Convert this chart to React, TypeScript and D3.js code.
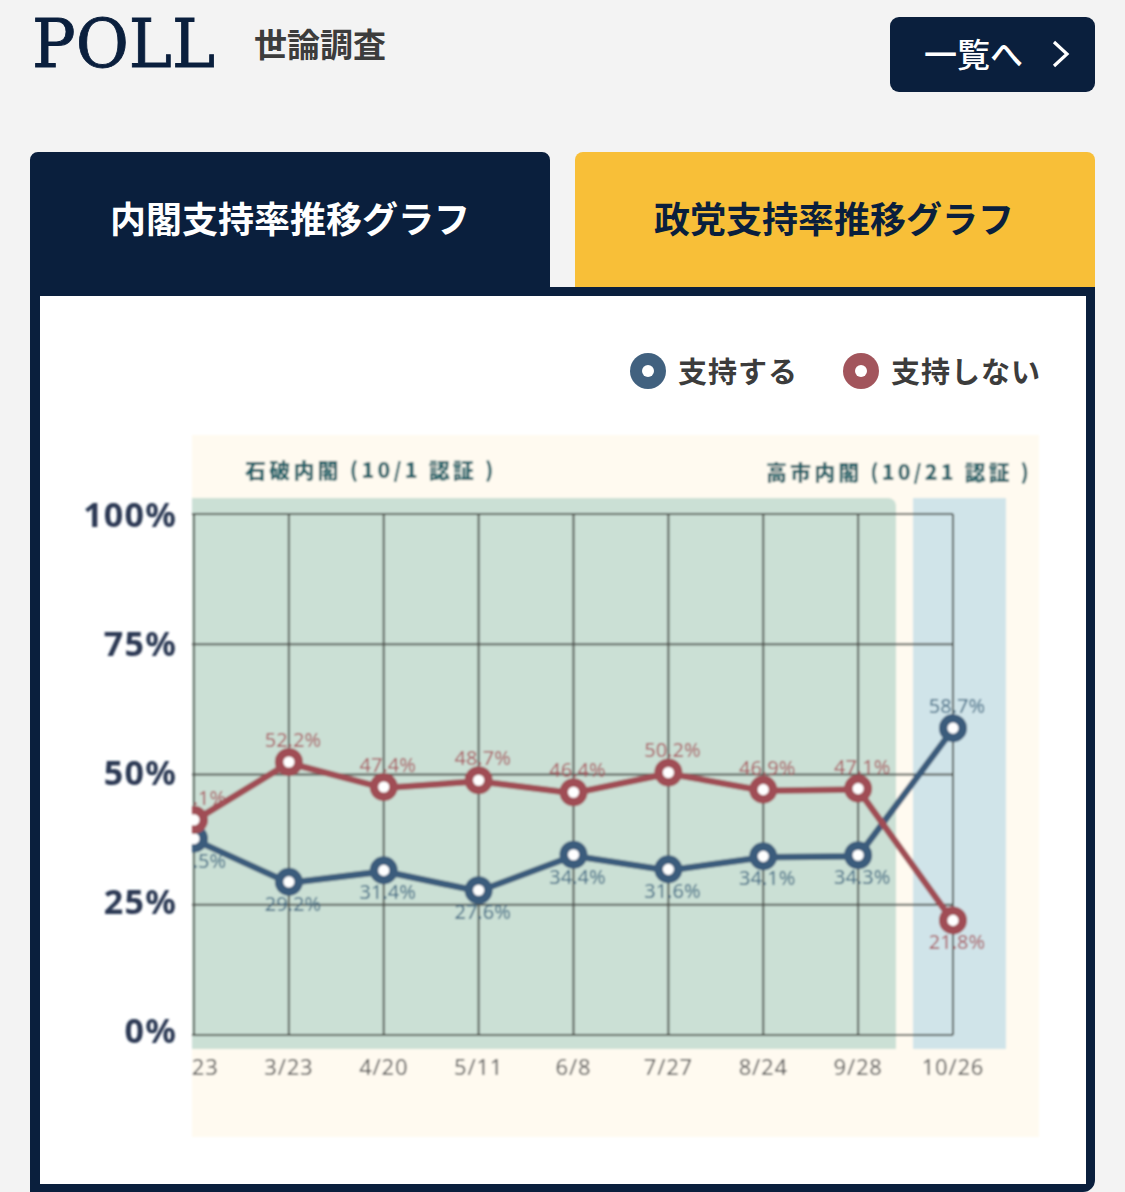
import { useEffect } from 'react';
import * as d3 from 'd3';

const dates = ['2/23', '3/23', '4/20', '5/11', '6/8', '7/27', '8/24', '9/28', '10/26'];
const supportValues = [37.5, 29.2, 31.4, 27.6, 34.4, 31.6, 34.1, 34.3, 58.7];
const opposeValues = [41.1, 52.2, 47.4, 48.7, 46.4, 50.2, 46.9, 47.1, 21.8];
const yTicks = [0, 25, 50, 75, 100];

const NAVY = '#0a1f3d';
const BLUE = '#41617f';
const RED = '#a2555c';
const JP = '"Noto Sans CJK JP", "Noto Sans", sans-serif';

const x = d3.scalePoint<string>().domain(dates).range([194, 953]);
const y = d3.scaleLinear().domain([0, 100]).range([1035, 514]);
// tick labels in the reference sit on a slightly tighter scale than the grid
const yLabel = d3.scaleLinear().domain([0, 100]).range([1043, 527]);

const line = d3
  .line<number>()
  .x((_, i) => x(dates[i]) as number)
  .y(d => y(d));

const series = [
  { name: 'support', values: supportValues, color: '#3a5c7c', labelColor: '#3f6a84', below: true },
  { name: 'oppose', values: opposeValues, color: '#a04d55', labelColor: '#a8575e', below: false },
];

export default function App() {
  useEffect(() => {
    document.body.style.margin = '0';
    document.body.style.background = '#f3f3f3';
  }, []);

  return (
    <svg width={1125} height={1192} style={{ display: 'block', background: '#f3f3f3' }}>
      <defs>
        <clipPath id="plot-clip">
          <rect x={192} y={435} width={847} height={702} />
        </clipPath>
        {/* the chart in the reference is an upscaled image, so soften it */}
        <filter id="soft" x="-5%" y="-5%" width="110%" height="110%">
          <feGaussianBlur stdDeviation={0.8} />
        </filter>
      </defs>

      {/* ── Header ── */}
      <text x={32} y={67} fontFamily='"DejaVu Serif", serif' fontSize={68} fill={NAVY} stroke={NAVY} strokeWidth={0.9}
        textLength={183} lengthAdjust="spacingAndGlyphs">POLL</text>
      <text x={254} y={57} fontFamily={JP} fontSize={33} fontWeight={700} fill="#3c3c3c">世論調査</text>
      <rect x={890} y={17} width={205} height={75} rx={9} fill={NAVY} />
      <text x={924} y={67} fontFamily={JP} fontSize={33} fontWeight={500} fill="#fff">一覧へ</text>
      <path d="M1054,42 L1067,54 L1054,66" fill="none" stroke="#fff" strokeWidth={3.2} />

      {/* ── Tabs and frame ── */}
      <path d="M30,1192 V160 a8,8 0 0 1 8,-8 H542 a8,8 0 0 1 8,8 V287 H1095 V1180 a12,12 0 0 1 -12,12 Z" fill={NAVY} />
      <path d="M575,287 V160 a8,8 0 0 1 8,-8 H1087 a8,8 0 0 1 8,8 V287 Z" fill="#f8bf38" />
      <rect x={40} y={296} width={1046} height={888} fill="#fff" />
      <text x={290} y={233} textAnchor="middle" fontFamily={JP} fontSize={36} fontWeight={700} fill="#fff">内閣支持率推移グラフ</text>
      <text x={834} y={233} textAnchor="middle" fontFamily={JP} fontSize={36} fontWeight={700} fill={NAVY}>政党支持率推移グラフ</text>

      {/* ── Legend ── */}
      <circle cx={648} cy={371} r={18} fill={BLUE} />
      <circle cx={648} cy={371} r={6} fill="#fff" />
      <text x={678} y={383} fontFamily={JP} fontSize={29} fontWeight={700} letterSpacing={1} fill="#3c3c3c">支持する</text>
      <circle cx={861} cy={371} r={18} fill={RED} />
      <circle cx={861} cy={371} r={6} fill="#fff" />
      <text x={891} y={383} fontFamily={JP} fontSize={29} fontWeight={700} letterSpacing={1} fill="#3c3c3c">支持しない</text>

      {/* ── Chart ── */}
      <g filter="url(#soft)">
        {yTicks.map(t => (
          <text key={t} x={177} y={yLabel(t)} textAnchor="end" fontFamily='"Noto Sans", sans-serif'
            fontSize={34} fontWeight={700} letterSpacing={1.2} fill="#2a3853">{t}%</text>
        ))}
        <g clipPath="url(#plot-clip)">
          <rect x={192} y={435} width={847} height={702} fill="#fffaf0" />
          <path d="M192,498 H888 a8,8 0 0 1 8,8 V1049 H192 Z" fill="#cbe0d5" />
          <rect x={913} y={498} width={93} height={551} fill="#d0e4e9" />
          <text x={245} y={478} fontFamily={JP} fontSize={21} fontWeight={900} letterSpacing={3.2} fill="#1f6168">石破内閣 (10/1 認証 )</text>
          <text x={766} y={480} fontFamily={JP} fontSize={21} fontWeight={900} letterSpacing={3.1} fill="#1f6168">高市内閣 (10/21 認証 )</text>

          {yTicks.map(t => (
            <line key={t} x1={192} x2={953} y1={y(t)} y2={y(t)} stroke="#505450" strokeWidth={2} />
          ))}
          {dates.map(d => (
            <line key={d} x1={x(d)} x2={x(d)} y1={y(100)} y2={y(0)} stroke="#505450" strokeWidth={2} />
          ))}
          {dates.map(d => (
            <text key={d} x={x(d) as number} y={1075} textAnchor="middle" fontFamily='"Noto Sans", sans-serif'
              fontSize={22} letterSpacing={0.8} fill="#585858">{d}</text>
          ))}

          {series.map(s => (
            <g key={s.name}>
              <path d={line(s.values) ?? ''} fill="none" stroke={s.color} strokeWidth={6.5} />
              {s.values.map((v, i) => {
                const last = i === s.values.length - 1;
                const below = last ? !s.below : s.below;
                return (
                  <text key={i} x={(x(dates[i]) as number) + 4} y={y(v) + (below ? 28 : -16)}
                    textAnchor="middle" fontFamily='"Noto Sans", sans-serif' fontSize={20}
                    fill={s.labelColor}>{v.toFixed(1)}%</text>
                );
              })}
              {s.values.map((v, i) => (
                <circle key={i} cx={x(dates[i])} cy={y(v) - 1} r={9.8} fill="#fff" stroke={s.color} strokeWidth={8.5} />
              ))}
            </g>
          ))}
        </g>
      </g>
    </svg>
  );
}
